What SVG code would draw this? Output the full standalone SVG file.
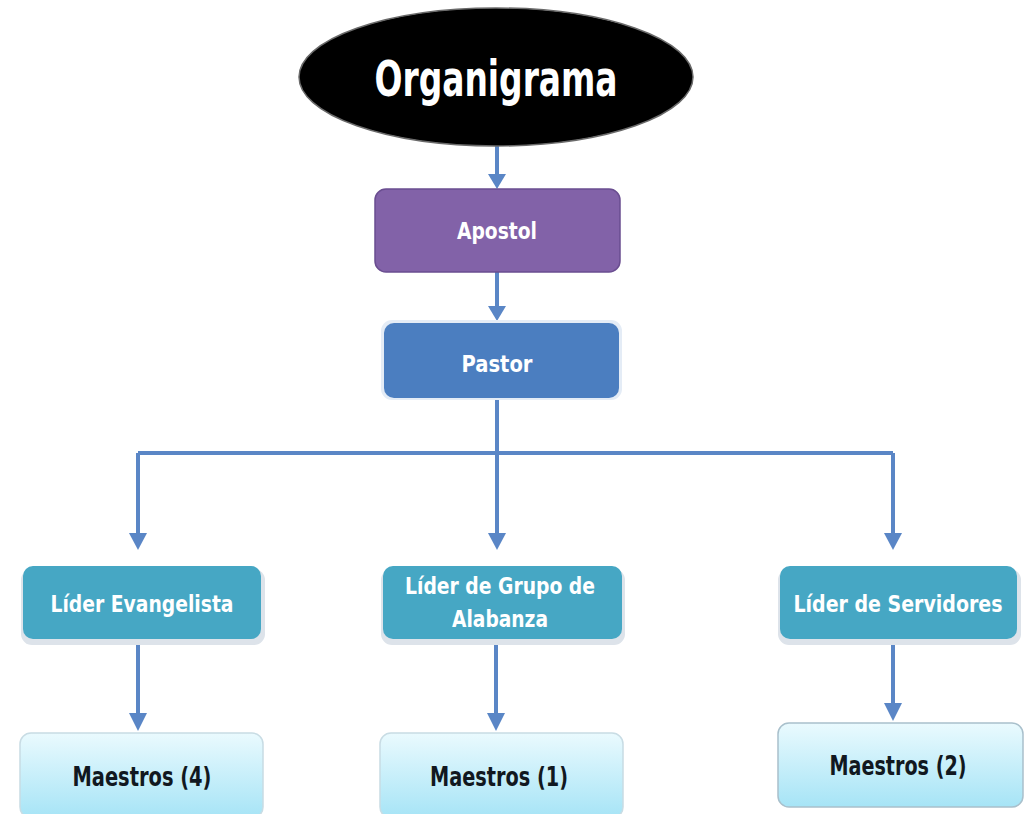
<svg xmlns="http://www.w3.org/2000/svg" width="1027" height="814" viewBox="0 0 1027 814">
<style>
.t{font-family:"Liberation Sans Narrow","DejaVu Sans Condensed","Liberation Sans",sans-serif;font-weight:bold;text-anchor:middle}
.w{fill:#ffffff}
.k{fill:#111820}
.c{stroke:#5a86c6;stroke-width:4;fill:none}
.sh{fill:#dde3ea}
</style>
<defs>
<marker id="ah" viewBox="0 0 10 10" refX="5" refY="10" markerWidth="4.5" markerHeight="4" orient="auto-start-reverse" markerUnits="strokeWidth">
<path d="M0,0 L10,0 L5,10 Z" fill="#5a86c6" transform="rotate(-90 5 5)"/>
</marker>
<linearGradient id="lg" x1="0" y1="0" x2="0" y2="1">
<stop offset="0" stop-color="#eafafe"/>
<stop offset="1" stop-color="#a6e4f6"/>
</linearGradient>
</defs>
<rect width="1027" height="814" fill="#ffffff"/>
<g id="connectors">
<path class="c" d="M497,145 V176"/>
<path d="M488,174 L506,174 L497,189 Z" fill="#5a86c6"/>
<path class="c" d="M497,272 V308"/>
<path d="M488,306 L506,306 L497,321 Z" fill="#5a86c6"/>
<path class="c" d="M497,398 V453"/>
<path class="c" d="M138,453 H893" stroke-width="5"/>
<path class="c" d="M138,453 V535"/>
<path d="M129,533 L147,533 L138,550 Z" fill="#5a86c6"/>
<path class="c" d="M497,453 V535"/>
<path d="M488,533 L506,533 L497,550 Z" fill="#5a86c6"/>
<path class="c" d="M893,453 V535"/>
<path d="M884,533 L902,533 L893,550 Z" fill="#5a86c6"/>
<path class="c" d="M138,640 V715"/>
<path d="M129,713 L147,713 L138,731 Z" fill="#5a86c6"/>
<path class="c" d="M496,640 V715"/>
<path d="M487,713 L505,713 L496,731 Z" fill="#5a86c6"/>
<path class="c" d="M893,640 V705"/>
<path d="M884,703 L902,703 L893,721 Z" fill="#5a86c6"/>
</g>
<g id="organigrama">
<ellipse cx="496" cy="77" rx="197" ry="69" fill="#000000" stroke="#6a6a6a" stroke-width="1.5"/>
<text class="t w" x="496" y="96" font-size="50" textLength="243" lengthAdjust="spacingAndGlyphs">Organigrama</text>
</g>
<g id="apostol">
<rect x="375" y="189" width="245" height="83" rx="11" fill="#8262a8" stroke="#6a4d90" stroke-width="1.5"/>
<text class="t w" x="497" y="239" font-size="23" textLength="80" lengthAdjust="spacingAndGlyphs">Apostol</text>
</g>
<g id="pastor">
<rect x="381" y="320" width="241" height="80" rx="11" fill="#e4ecf6"/>
<rect x="384" y="323" width="235" height="75" rx="10" fill="#4b7ec0"/>
<text class="t w" x="497" y="372" font-size="23" textLength="71" lengthAdjust="spacingAndGlyphs">Pastor</text>
</g>
<g id="lider-evangelista">
<rect x="21" y="569" width="244" height="76" rx="11" class="sh"/>
<rect x="23" y="566" width="238" height="73" rx="10" fill="#46a7c4"/>
<text class="t w" x="142" y="612" font-size="23" textLength="183" lengthAdjust="spacingAndGlyphs">Líder Evangelista</text>
</g>
<g id="lider-alabanza">
<rect x="381" y="569" width="244" height="76" rx="11" class="sh"/>
<rect x="383" y="566" width="239" height="73" rx="10" fill="#46a7c4"/>
<text class="t w" x="500" y="594" font-size="23" textLength="190" lengthAdjust="spacingAndGlyphs">Líder de Grupo de</text>
<text class="t w" x="500" y="627" font-size="23" textLength="96" lengthAdjust="spacingAndGlyphs">Alabanza</text>
</g>
<g id="lider-servidores">
<rect x="778" y="569" width="243" height="76" rx="11" class="sh"/>
<rect x="780" y="566" width="237" height="73" rx="10" fill="#46a7c4"/>
<text class="t w" x="898" y="612" font-size="23" textLength="209" lengthAdjust="spacingAndGlyphs">Líder de Servidores</text>
</g>
<g id="maestros-4">
<rect x="20" y="733" width="243" height="85" rx="11" fill="url(#lg)" stroke="#c8dce4" stroke-width="1.5"/>
<text class="t k" x="142" y="786" font-size="26" textLength="139" lengthAdjust="spacingAndGlyphs">Maestros (4)</text>
</g>
<g id="maestros-1">
<rect x="380" y="733" width="243" height="85" rx="11" fill="url(#lg)" stroke="#c8dce4" stroke-width="1.5"/>
<text class="t k" x="499" y="786" font-size="26" textLength="138" lengthAdjust="spacingAndGlyphs">Maestros (1)</text>
</g>
<g id="maestros-2">
<rect x="778" y="723" width="245" height="84" rx="11" fill="url(#lg)" stroke="#a9c0cc" stroke-width="1.5"/>
<text class="t k" x="898" y="775" font-size="26" textLength="137" lengthAdjust="spacingAndGlyphs">Maestros (2)</text>
</g>
</svg>
